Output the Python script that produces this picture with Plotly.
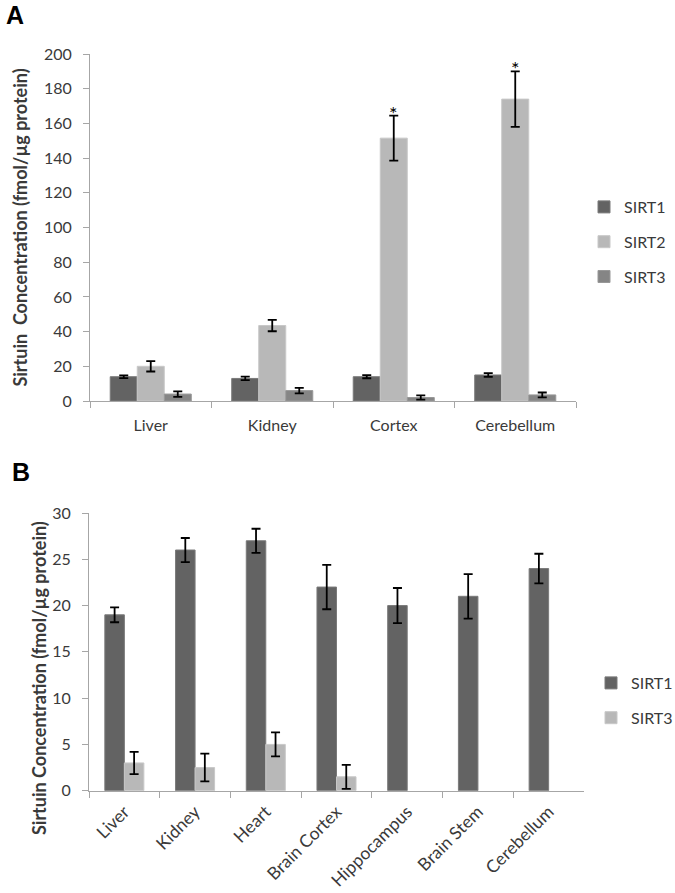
import plotly.graph_objects as go

# ── Panel A: liver / kidney / brain regions ────────────────────────────────────
tissues_a = ["Liver", "Kidney", "Cortex", "Cerebellum"]
sirt1_a = [14, 13, 14, 15]
sirt1_a_err = [0.8, 1.0, 0.9, 1.1]
sirt2_a = [20, 43.5, 151.5, 174]
sirt2_a_err = [3.0, 3.3, 13.0, 16.0]
sirt3_a = [4, 6, 2, 3.5]
sirt3_a_err = [1.6, 1.6, 1.2, 1.4]
starred_a = ["Cortex", "Cerebellum"]

# ── Panel B: SIRT1 / SIRT3 across tissues ─────────────────────────────────────
tissues_b = ["Liver", "Kidney", "Heart", "Brain Cortex", "Hippocampus", "Brain Stem", "Cerebellum"]
sirt1_b = [19, 26, 27, 22, 20, 21, 24]
sirt1_b_err = [0.8, 1.3, 1.3, 2.4, 1.9, 2.4, 1.6]
sirt3_b = [3, 2.5, 5, 1.5, None, None, None]
sirt3_b_err = [1.2, 1.5, 1.3, 1.3, 0, 0, 0]

FONT = "Lato, 'Open Sans', sans-serif"
C1, C2, C3A, C3B = "#636363", "#b8b8b8", "#858585", "#b8b8b8"
AXIS = "#a6a6a6"
TXT = "#3a3a3a"


def _bar(x, y, err, name, color, edge, xaxis, yaxis, legend, group, **kw):
    return go.Bar(
        x=x, y=y, name=name, xaxis=xaxis, yaxis=yaxis, legend=legend,
        legendgroup=group,
        marker=dict(color=color, line=dict(color=edge, width=1)),
        error_y=dict(type="data", array=err, color="#000000", thickness=1.8, width=4.5),
        **kw,
    )


fig = go.Figure()
fig.add_trace(_bar(tissues_a, sirt1_a, sirt1_a_err, "SIRT1", C1, "#7a7a7a", "x", "y", "legend", "a1"))
fig.add_trace(_bar(tissues_a, sirt2_a, sirt2_a_err, "SIRT2", C2, "#c8c8c8", "x", "y", "legend", "a2"))
fig.add_trace(_bar(tissues_a, sirt3_a, sirt3_a_err, "SIRT3", C3A, "#989898", "x", "y", "legend", "a3"))
# panel B bars are narrower than panel A, so widths/offsets are set per trace
fig.add_trace(_bar(tissues_b, sirt1_b, sirt1_b_err, "SIRT1", C1, "#7a7a7a", "x2", "y2", "legend2", "b1",
                   width=0.276, offset=-0.276))
fig.add_trace(_bar(tissues_b, sirt3_b, sirt3_b_err, "SIRT3", C3B, "#c8c8c8", "x2", "y2", "legend2", "b3",
                   width=0.276, offset=0.0))

# significance stars above the SIRT2 error bars (SIRT2 is the centre bar)
for t in starred_a:
    i = tissues_a.index(t)
    fig.add_annotation(x=t, y=sirt2_a[i] + sirt2_a_err[i], xref="x", yref="y",
                       text="*", showarrow=False, yshift=3,
                       font=dict(family=FONT, size=20, color="#000000"))

# panel letters
fig.add_annotation(x=4 / 675, y=1 + 1 / 893, xref="paper", yref="paper", xanchor="left", yanchor="top",
                   text="<b>A</b>", showarrow=False, font=dict(family="Liberation Sans", size=25, color="#000"))
fig.add_annotation(x=10 / 675, y=1 - 456 / 893, xref="paper", yref="paper", xanchor="left", yanchor="top",
                   text="<b>B</b>", showarrow=False, font=dict(family="Liberation Sans", size=25, color="#000"))

# panel B's y title sits lower than its axis centre in the original, so it is an annotation
fig.add_annotation(x=39 / 675, y=1 - 678 / 893, xref="paper", yref="paper", xanchor="center", yanchor="middle",
                   text="<b>Sirtuin Concentration (fmol/µg protein)</b>", textangle=-90, showarrow=False,
                   font=dict(family=FONT, size=18, color=TXT))

tick_font = dict(family=FONT, size=16, color=TXT)
title_font = dict(family=FONT, size=18, color=TXT)

xa = dict(showline=True, linecolor=AXIS, linewidth=1, ticks="outside", tickson="boundaries",
          ticklen=6, tickcolor=AXIS, tickfont=tick_font, showgrid=False, fixedrange=True,
          automargin=False)
ya = dict(showline=True, linecolor=AXIS, linewidth=1, ticks="outside", ticklen=6, tickcolor=AXIS,
          ticklabelstandoff=8, showgrid=False, zeroline=False, automargin=False,
          tickfont=tick_font, title_font=title_font, fixedrange=True)

fig.update_layout(
    width=675, height=893,
    margin=dict(l=0, r=0, t=0, b=0, autoexpand=False),
    paper_bgcolor="white", plot_bgcolor="white",
    font=dict(family=FONT, color=TXT),
    barmode="group",
    bargap=0.333,
    xaxis=dict(xa, domain=[90 / 675, 576 / 675], anchor="y", ticklabelstandoff=10),
    yaxis=dict(ya, domain=[1 - 401 / 893, 1 - 54 / 893], anchor="x", range=[0, 200], dtick=20,
               title=dict(text="<b>Sirtuin  Concentration (fmol/µg protein)</b>", standoff=11)),
    xaxis2=dict(xa, domain=[89 / 675, 584 / 675], anchor="y2", tickangle=-45,
                tickfont=dict(tick_font, size=17.5), ticklabelstandoff=3),
    yaxis2=dict(ya, domain=[1 - 790.7 / 893, 1 - 513 / 893], anchor="x2", range=[0, 30], dtick=5),
    legend=dict(x=584 / 675, y=1 - 190 / 893, xanchor="left", yanchor="top",
                font=dict(family=FONT, size=16, color=TXT), tracegroupgap=11,
                itemwidth=30, bgcolor="rgba(0,0,0,0)"),
    legend2=dict(x=591 / 675, y=1 - 666 / 893, xanchor="left", yanchor="top",
                 font=dict(family=FONT, size=16, color=TXT), tracegroupgap=11,
                 itemwidth=30, bgcolor="rgba(0,0,0,0)"),
)

# pin the graph to the top-left corner of the page
pin = ("document.documentElement.style.overflow='hidden';document.body.style.margin='0';"
       "var gd=document.getElementById('{plot_id}');gd.style.position='fixed';"
       "gd.style.top='0px';gd.style.left='0px';")
fig.write_html("out.html", config={"displayModeBar": False}, post_script=pin)
